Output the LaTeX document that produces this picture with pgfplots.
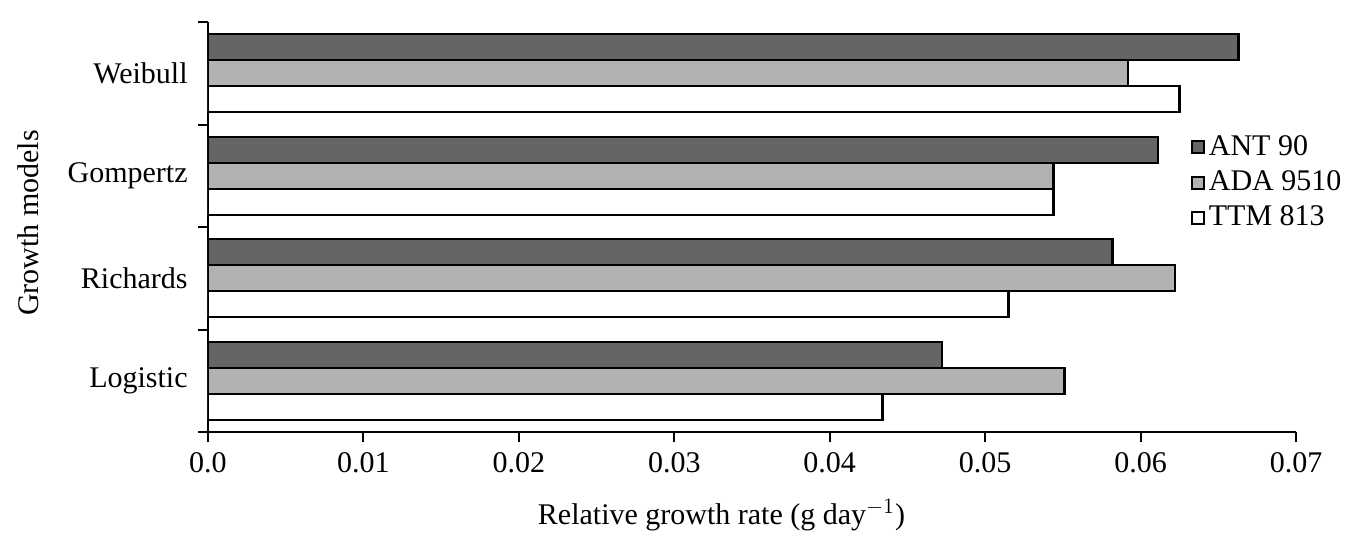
\documentclass[border=0pt]{standalone}
\usepackage{fontspec}
\setmainfont{Liberation Serif}
\usepackage{pgfplots}
\pgfplotsset{compat=1.18}
\definecolor{darkbar}{HTML}{656565}
\definecolor{lightbar}{HTML}{B2B2B2}
\begin{document}
\fontsize{15}{18}\selectfont
\begin{tikzpicture}
\useasboundingbox (-104pt,-55pt) rectangle (572pt,216pt);
\begin{axis}[
  at={(0,0)}, anchor=south west,
  scale only axis,
  width=544pt, height=205pt,
  xmin=0, xmax=0.07,
  ymin=-0.5, ymax=3.5,
  axis x line*=bottom, axis y line*=left,
  axis line style={-, line width=1pt},
  tick align=outside,
  major tick length=5pt, minor tick length=5pt,
  tick style={line width=1pt, black},
  scaled x ticks=false,
  xtick={0,0.01,0.02,0.03,0.04,0.05,0.06,0.07},
  xticklabels={0.0,0.01,0.02,0.03,0.04,0.05,0.06,0.07},
  ytick={0,1,2,3},
  yticklabels={Logistic,Richards,Gompertz,Weibull},
  every major y tick/.style={draw=none},
  minor ytick={-0.5,0.5,1.5,2.5,3.5},
  /pgf/number format/assume math mode=true,
  ticklabel style={font=\fontsize{15}{18}\selectfont},
  label style={font=\fontsize{15}{18}\selectfont},
  xlabel={Relative growth rate (g day$^{-1}$)},
  ylabel={Growth models},
  every axis x label/.style={at={(axis description cs:0.472,-0.2024)}, anchor=center},
  every axis y label/.style={at={(axis description cs:-0.1654,0.51)}, rotate=90, anchor=center},
  xbar, bar width=0.254,
  every axis plot/.append style={draw=black, line width=1.1pt},
  legend style={at={(axis description cs:0.903,0.735)}, anchor=north west, draw=none, fill=none,
    font=\fontsize{15}{18}\selectfont, row sep=1.5pt, inner sep=0pt},
  legend cell align=left,
  legend image code/.code={\draw[#1, line width=1pt] (0.5pt,-3pt) rectangle (6.5pt,3pt);},
]
\addplot[fill=darkbar, bar shift=0.254] coordinates {(0.0472,0) (0.0582,1) (0.0611,2) (0.0663,3)};
\addplot[fill=lightbar, bar shift=0] coordinates {(0.0551,0) (0.0622,1) (0.0544,2) (0.0592,3)};
\addplot[fill=white, bar shift=-0.254] coordinates {(0.0434,0) (0.0515,1) (0.0544,2) (0.0625,3)};
\legend{ANT 90, ADA 9510, TTM 813}
\end{axis}
\end{tikzpicture}
\end{document}
